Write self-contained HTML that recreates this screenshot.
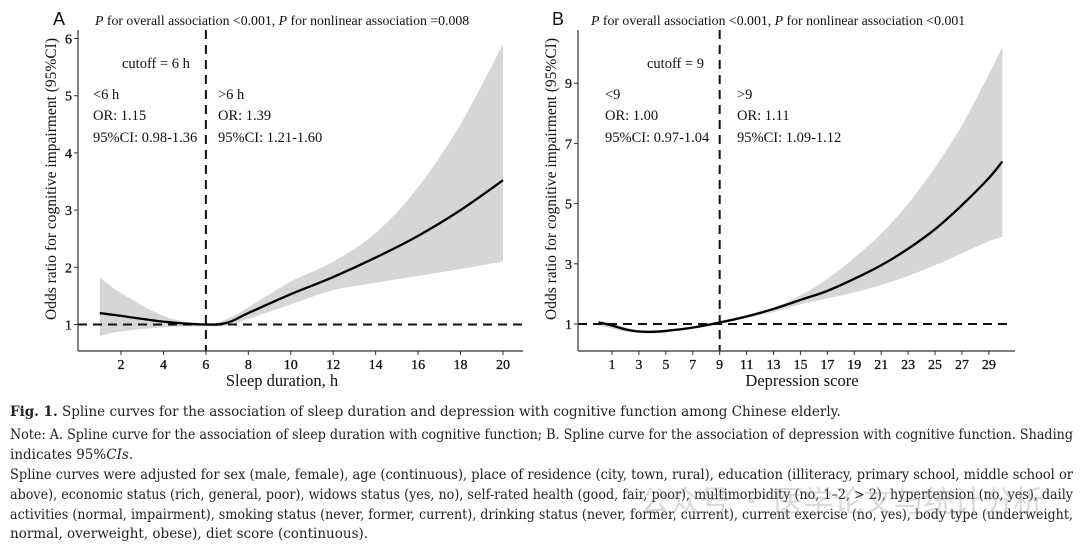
<!DOCTYPE html>
<html><head><meta charset="utf-8">
<style>
html,body{margin:0;padding:0;background:#fff;}
svg{display:block;}
text{font-family:"Liberation Serif",serif;fill:#111;}
.cap{font-family:"DejaVu Serif","Liberation Serif",serif;font-size:13.5px;fill:#222;}
</style></head>
<body>
<svg id="fig" width="1080" height="544" viewBox="0 0 1080 544">
  <g id="pA"></g>
  <g id="pB"></g>
  <g>
    <text class="cap" x="10" y="416"><tspan font-weight="bold">Fig. 1.</tspan> Spline curves for the association of sleep duration and depression with cognitive function among Chinese elderly.</text>
    <text class="cap" x="10" y="439" textLength="1063" lengthAdjust="spacingAndGlyphs">Note: A. Spline curve for the association of sleep duration with cognitive function; B. Spline curve for the association of depression with cognitive function. Shading</text>
    <text class="cap" x="10" y="459">indicates 95%<tspan font-style="italic">CIs</tspan>.</text>
    <text class="cap" x="10" y="479" textLength="1063" lengthAdjust="spacingAndGlyphs">Spline curves were adjusted for sex (male, female), age (continuous), place of residence (city, town, rural), education (illiteracy, primary school, middle school or</text>
    <text class="cap" x="10" y="499" textLength="1063" lengthAdjust="spacingAndGlyphs">above), economic status (rich, general, poor), widows status (yes, no), self-rated health (good, fair, poor), multimorbidity (no, 1–2, &gt; 2), hypertension (no, yes), daily</text>
    <text class="cap" x="10" y="519" textLength="1063" lengthAdjust="spacingAndGlyphs">activities (normal, impairment), smoking status (never, former, current), drinking status (never, former, current), current exercise (no, yes), body type (underweight,</text>
    <text class="cap" x="10" y="538">normal, overweight, obese), diet score (continuous).</text>
    <text x="640" y="512" style="font-family:'Noto Sans CJK SC',sans-serif;font-size:30px;fill:rgba(150,150,150,0.35)">公众号 · 医学论文与统计分析</text>
  </g>
</svg>
<script>
// Panel A data
const aX = [1,2,4,6,7,8,10,12,14,16,18,20];
const aOR = [1.2,1.15,1.05,1.0,1.03,1.2,1.53,1.83,2.17,2.55,3.0,3.52];
const aLo = [0.8,0.88,0.95,0.97,0.98,1.1,1.35,1.6,1.73,1.85,1.97,2.1];
const aHi = [1.82,1.55,1.15,1.0,1.1,1.3,1.75,2.1,2.6,3.4,4.5,5.9];
const aXTicks = [2,4,6,8,10,12,14,16,18,20];
const aYTicks = [1,2,3,4,5,6];
// Panel B data
const bX = [0,1,2,3,4,5,7,9,11,13,15,17,19,21,23,25,27,29,30];
const bOR = [1.05,0.95,0.82,0.75,0.74,0.77,0.88,1.05,1.25,1.5,1.8,2.1,2.5,2.95,3.5,4.15,4.95,5.85,6.4];
const bLo = [0.95,0.85,0.75,0.7,0.69,0.73,0.85,1.0,1.2,1.4,1.65,1.85,2.05,2.3,2.6,2.95,3.35,3.75,3.9];
const bHi = [1.12,1.02,0.88,0.8,0.79,0.82,0.93,1.1,1.3,1.55,1.95,2.5,3.2,4.0,5.0,6.2,7.6,9.3,10.2];
const bXTicks = [1,3,5,7,9,11,13,15,17,19,21,23,25,27,29];
const bYTicks = [1,3,5,7,9];

const NS="http://www.w3.org/2000/svg";
function mk(parent,tag,attrs,txt){const e=document.createElementNS(NS,tag);for(const k in attrs)e.setAttribute(k,attrs[k]);if(txt!==undefined)e.textContent=txt;parent.appendChild(e);return e;}
function smooth(pts){let d="M"+pts[0][0]+","+pts[0][1];for(let i=0;i<pts.length-1;i++){const p0=pts[Math.max(0,i-1)],p1=pts[i],p2=pts[i+1],p3=pts[Math.min(pts.length-1,i+2)];const c1=[p1[0]+(p2[0]-p0[0])/6,p1[1]+(p2[1]-p0[1])/6],c2=[p2[0]-(p3[0]-p1[0])/6,p2[1]-(p3[1]-p1[1])/6];d+=" C"+c1[0]+","+c1[1]+" "+c2[0]+","+c2[1]+" "+p2[0]+","+p2[1];}return d;}

function panel(g,cfg){
  const sx=v=>cfg.x0+(v-cfg.xv0)*cfg.xs, sy=v=>cfg.y1-(v-1)*cfg.ys;
  const up=cfg.xs_.map((x,i)=>[sx(x),sy(cfg.hi[i])]);
  const lo=cfg.xs_.map((x,i)=>[sx(x),sy(cfg.lo[i])]).reverse();
  const sl=smooth(lo);
  let d=smooth(up)+" L"+lo[0][0]+","+lo[0][1]+sl.slice(sl.indexOf(" C"))+" Z";
  let band=mk(g,"path",{d:d,fill:"#d6d6d6",stroke:"none"});
  
  
  let h=mk(g,"line",{x1:cfg.ax,y1:sy(1),x2:cfg.hEnd,y2:sy(1),stroke:"#111","stroke-width":2,"stroke-dasharray":"9,6"});
  
  
  let v=mk(g,"line",{x1:sx(cfg.cut),y1:cfg.top,x2:sx(cfg.cut),y2:cfg.axY,stroke:"#111","stroke-width":2,"stroke-dasharray":"9,6"});
  
  
  let c=mk(g,"path",{d:smooth(cfg.xs_.map((x,i)=>[sx(x),sy(cfg.or[i])])),fill:"none",stroke:"#000","stroke-width":2.3});
  
  
  let ya=mk(g,"line",{x1:cfg.ax,y1:cfg.top,x2:cfg.ax,y2:cfg.axY,stroke:"#333","stroke-width":1.2});
  
  
  let xa=mk(g,"line",{x1:cfg.ax,y1:cfg.axY,x2:cfg.xEnd,y2:cfg.axY,stroke:"#333","stroke-width":1.2});
  
  
  cfg.xt.forEach(t=>{
    mk(g,"line",{x1:sx(t),y1:cfg.axY,x2:sx(t),y2:cfg.axY+4,stroke:"#333"});
    let l=mk(g,"text",{x:sx(t),y:cfg.axY+18,"text-anchor":"middle","font-size":14,"stroke":"#111","stroke-width":0.3},t);
    
    
  });
  cfg.yt.forEach(t=>{
    mk(g,"line",{x1:cfg.ax-4,y1:sy(t),x2:cfg.ax,y2:sy(t),stroke:"#333"});
    let l=mk(g,"text",{x:cfg.ax-6,y:sy(t)+5,"text-anchor":"end","font-size":14,"stroke":"#111","stroke-width":0.3},t);
    
    
  });
  let xt=mk(g,"text",{x:cfg.xTitleX,y:386,"text-anchor":"middle","font-size":16.5},cfg.xTitle);
  
  
  let yt=mk(g,"text",{x:0,y:0,"text-anchor":"middle","font-size":15.5,transform:"translate("+cfg.yTitleX+",179) rotate(-90)"},"Odds ratio for cognitive impairment (95%CI)");
  
  
  let lab=mk(g,"text",{x:cfg.labX,y:25,"font-size":18,style:"font-family:'Liberation Sans',sans-serif"},cfg.label);
  
  
  let p=mk(g,"text",{x:cfg.pX,y:25,"font-size":13.8});
  
  
  p.innerHTML='<tspan font-style="italic">P</tspan>  for overall association &lt;0.001, <tspan font-style="italic">P</tspan>  for nonlinear association '+cfg.pNL;
  cfg.notes.forEach(n=>{let t=mk(g,"text",{x:n[0],y:n[1],"font-size":14.5},n[2]);});
}
panel(document.getElementById("pA"),{x0:121,xv0:2,xs:21.22,y1:324.5,ys:57.2,ax:78,axY:351,top:30,xEnd:523,hEnd:523,cut:6,
  xs_:aX,or:aOR,lo:aLo,hi:aHi,xt:aXTicks,yt:aYTicks,xTitle:"Sleep duration, h",xTitleX:282,yTitleX:56,label:"A",labX:53,pX:95,pNL:"=0.008",
  notes:[[122,68,"cutoff = 6 h"],[93,99,"<6 h"],[93,120,"OR: 1.15"],[93,142,"95%CI: 0.98-1.36"],[218,99,">6 h"],[218,120,"OR: 1.39"],[218,142,"95%CI: 1.21-1.60"]]});
panel(document.getElementById("pB"),{x0:612,xv0:1,xs:13.46,y1:324,ys:30.1,ax:578,axY:351,top:30,xEnd:1015,hEnd:1010,cut:9,
  xs_:bX,or:bOR,lo:bLo,hi:bHi,xt:bXTicks,yt:bYTicks,xTitle:"Depression score",xTitleX:802,yTitleX:556,label:"B",labX:552,pX:591,pNL:"<0.001",
  notes:[[647,68,"cutoff = 9"],[605,99,"<9"],[605,120,"OR: 1.00"],[605,142,"95%CI: 0.97-1.04"],[737,99,">9"],[737,120,"OR: 1.11"],[737,142,"95%CI: 1.09-1.12"]]});
</script>
</body></html>
